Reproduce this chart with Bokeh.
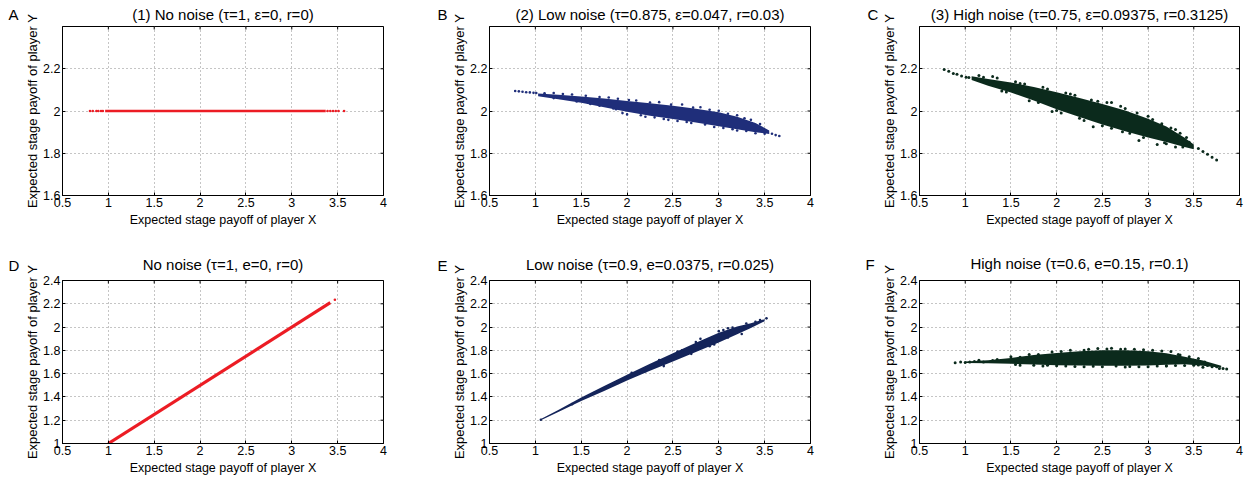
import math
from bokeh.plotting import figure
from bokeh.layouts import column, row
from bokeh.models import FixedTicker, Range1d
from bokeh.embed import file_html
from bokeh.resources import INLINE

# ---------------- data ----------------
x_ticks = [0.5, 1, 1.5, 2, 2.5, 3, 3.5, 4]
x_tick_labels = ["0.5", "1", "1.5", "2", "2.5", "3", "3.5", "4"]
y_ticks_top = [1.6, 1.8, 2.0, 2.2]
y_tick_labels_top = ["1.6", "1.8", "2", "2.2"]
y_ticks_bottom = [1.0, 1.2, 1.4, 1.6, 1.8, 2.0, 2.2, 2.4]
y_tick_labels_bottom = ["1", "1.2", "1.4", "1.6", "1.8", "2", "2.2", "2.4"]

letters = ["A", "B", "C", "D", "E", "F"]
titles = [
    "(1) No noise (\u03c4=1, \u03b5=0, r=0)",
    "(2) Low noise (\u03c4=0.875, \u03b5=0.047, r=0.03)",
    "(3) High noise (\u03c4=0.75, \u03b5=0.09375, r=0.3125)",
    "No noise (\u03c4=1, e=0, r=0)",
    "Low noise (\u03c4=0.9, e=0.0375, r=0.025)",
    "High noise (\u03c4=0.6, e=0.15, r=0.1)",
]
x_label = "Expected stage payoff of player X"
y_label = "Expected stage payoff of player Y"

# Panel A: dense run on y=2 plus sparse ends
a_dense_x = [0.965, 3.37]
a_dense_y = [2.0, 2.0]
a_sparse_x = [0.80, 0.83, 0.87, 0.89, 0.92, 0.94, 3.39, 3.42, 3.45, 3.48, 3.51, 3.57]
a_sparse_y = [2.0] * 12

# Panel B: dense band + sparse points
b_x = [1.03, 1.25, 1.5, 1.75, 2.0, 2.25, 2.5, 2.75, 3.0, 3.2, 3.4, 3.55]
b_upper = [2.083, 2.077, 2.069, 2.059, 2.047, 2.037, 2.025, 2.011, 1.994, 1.973, 1.943, 1.908]
b_lower = [2.070, 2.056, 2.039, 2.018, 1.996, 1.978, 1.962, 1.946, 1.928, 1.914, 1.900, 1.891]
b_pts_x = [0.78, 0.82, 0.86, 0.90, 0.94, 0.98, 1.01, 3.58, 3.62, 3.66,
           1.2, 1.4, 1.7, 1.9, 2.1, 2.35, 2.6, 2.8, 3.0, 3.2, 3.35,
           1.2, 1.45, 1.7, 1.95, 2.2, 2.45, 2.7, 2.95, 3.2, 3.4, 3.5,
           2.0, 2.3, 1.88, 2.55, 3.05,
           1.1, 1.3, 1.55, 1.8, 2.02, 2.25, 2.48, 2.72, 2.9, 3.1, 3.28, 3.45,
           1.6, 1.85, 2.15, 2.4, 2.65, 2.85, 3.15, 3.3]
b_pts_y = [2.095, 2.093, 2.091, 2.089, 2.088, 2.086, 2.085, 1.892, 1.886, 1.882,
           2.085, 2.078, 2.066, 2.058, 2.050, 2.042, 2.031, 2.018, 2.001, 1.980, 1.958,
           2.061, 2.045, 2.025, 1.990, 1.973, 1.958, 1.943, 1.924, 1.908, 1.895, 1.892,
           1.984, 1.970, 2.008, 1.953, 1.920,
           2.084, 2.080, 2.072, 2.064, 2.052, 2.040, 2.030, 2.016, 2.006, 1.987, 1.966, 1.938,
           2.033, 2.012, 1.980, 1.962, 1.948, 1.936, 1.914, 1.905]

# Panel C
c_x = [1.07, 1.25, 1.5, 1.75, 2.0, 2.25, 2.5, 2.75, 3.0, 3.2, 3.4, 3.5]
c_upper = [2.165, 2.152, 2.135, 2.114, 2.089, 2.062, 2.033, 2.002, 1.963, 1.927, 1.873, 1.841]
c_lower = [2.147, 2.119, 2.088, 2.050, 2.008, 1.972, 1.936, 1.904, 1.874, 1.853, 1.829, 1.819]
c_pts_x = [0.77, 0.82, 0.87, 0.91, 0.96, 1.01, 1.04, 3.55, 3.60, 3.65, 3.70, 3.75,
           1.95, 2.05, 2.4, 2.6, 2.9, 3.1, 3.3, 1.3, 1.6, 2.1, 2.6, 3.0, 3.3, 3.45, 1.4, 1.8,
           1.2, 1.55, 1.85, 2.2, 2.45, 2.75, 3.15, 3.35, 2.3, 2.8, 3.2,
           1.15, 1.35, 1.65, 1.9, 2.15, 2.38, 2.55, 2.7, 2.88, 3.05, 3.25, 3.42,
           1.45, 1.7, 2.0, 2.25, 2.5, 2.72, 2.95, 3.18, 3.38]
c_pts_y = [2.196, 2.188, 2.178, 2.174, 2.166, 2.160, 2.158, 1.822, 1.808, 1.795, 1.781, 1.768,
           1.998, 1.990, 1.925, 1.918, 1.860, 1.842, 1.830, 2.163, 2.130, 2.085, 2.040, 1.975, 1.912, 1.852, 2.095, 2.040,
           2.160, 2.138, 2.112, 2.074, 2.046, 2.012, 1.940, 1.895, 1.955, 1.895, 1.845,
           2.168, 2.156, 2.128, 2.104, 2.080, 2.052, 2.040, 2.022, 1.990, 1.960, 1.920, 1.875,
           2.090, 2.048, 2.002, 1.966, 1.930, 1.902, 1.875, 1.850, 1.830]

# Panel D: line of points
d_x = [1.0, 3.42]
d_y = [1.0, 2.21]
d_pts_x = [3.47]
d_pts_y = [2.235]

# Panel E
e_x = [1.06, 1.25, 1.5, 1.75, 2.0, 2.25, 2.5, 2.75, 3.0, 3.2, 3.35, 3.5]
e_upper = [1.210, 1.288, 1.396, 1.494, 1.590, 1.685, 1.776, 1.866, 1.952, 2.005, 2.032, 2.068]
e_lower = [1.199, 1.271, 1.364, 1.450, 1.542, 1.625, 1.705, 1.785, 1.868, 1.938, 1.992, 2.050]
e_pts_x = [1.06, 3.52, 3.45, 3.40, 3.0, 2.8, 2.6, 2.2, 1.9, 3.1, 2.95, 3.25,
           2.6, 2.85, 3.05, 3.3, 2.4, 2.7, 2.9, 3.1,
           1.4, 1.65, 2.05, 2.35, 2.55, 2.75, 3.15]
e_pts_y = [1.204, 2.075, 2.060, 2.045, 1.965, 1.900, 1.800, 1.620, 1.520, 1.990, 1.850, 1.940,
           1.792, 1.885, 1.975, 2.030, 1.665, 1.770, 1.835, 1.910,
           1.338, 1.440, 1.608, 1.716, 1.790, 1.872, 1.995]

# Panel F
f_x = [1.0, 1.25, 1.5, 1.75, 2.0, 2.25, 2.5, 2.75, 3.0, 3.2, 3.4, 3.6, 3.8]
f_upper = [1.704, 1.716, 1.735, 1.760, 1.778, 1.792, 1.800, 1.800, 1.792, 1.776, 1.745, 1.712, 1.668]
f_lower = [1.692, 1.690, 1.684, 1.678, 1.673, 1.670, 1.668, 1.668, 1.670, 1.676, 1.680, 1.668, 1.650]
f_pts_x = [0.89, 0.95, 1.0, 1.05, 1.1, 1.2, 1.3, 1.4, 1.6, 1.8, 2.05, 2.3, 2.45, 2.6, 2.7, 2.85,
           3.05, 3.25, 3.33, 2.1, 2.5, 2.9, 3.1, 3.3, 3.5, 3.55, 3.65, 3.7, 3.75, 3.82, 3.86,
           3.45, 3.38, 2.2, 2.65, 1.9,
           1.5, 1.7, 1.95, 2.15, 2.35, 2.55, 2.75, 2.95, 3.15, 3.35, 3.45, 3.55,
           1.6, 1.85, 2.3, 2.75, 3.0, 3.2, 3.4, 3.6, 3.78,
           1.15, 1.35, 1.55, 1.75, 2.0, 2.4, 2.8, 3.2, 3.5, 3.62]
f_pts_y = [1.694, 1.700, 1.696, 1.700, 1.705, 1.700, 1.712, 1.705, 1.740, 1.765, 1.790, 1.800, 1.815, 1.818, 1.810, 1.810,
           1.800, 1.790, 1.765, 1.665, 1.660, 1.660, 1.665, 1.670, 1.690, 1.675, 1.670, 1.660, 1.660, 1.645, 1.640,
           1.720, 1.700, 1.662, 1.665, 1.672,
           1.745, 1.765, 1.785, 1.800, 1.810, 1.812, 1.812, 1.805, 1.795, 1.760, 1.745, 1.730,
           1.672, 1.665, 1.660, 1.658, 1.660, 1.665, 1.670, 1.655, 1.645,
           1.715, 1.722, 1.678, 1.672, 1.668, 1.664, 1.662, 1.668, 1.673, 1.700]

RED = "#ec1c24"
NAVY_B = "#1f2e7a"
NAVY_E = "#14245a"
GREEN = "#0b2a1c"
FONT = "Liberation Sans"
MS = 2.6


def style_title(t, text, align, standoff):
    t.text = text
    t.align = align
    t.text_font = FONT
    t.text_font_size = "15px"
    t.text_font_style = "normal"
    t.text_color = "black"
    t.standoff = standoff


def letter_fig(width, height, lx, standoff, text):
    # narrow, empty plot whose title carries the panel letter
    p = figure(width=width, height=height, x_range=Range1d(0, 1), y_range=Range1d(0, 1),
               x_axis_type=None, y_axis_type=None, output_backend="svg", toolbar_location=None,
               min_border=0, min_border_left=0, min_border_right=0, min_border_top=0, min_border_bottom=0)
    p.outline_line_color = None
    p.grid.visible = False
    p.background_fill_color = "white"
    p.border_fill_color = "white"
    style_title(p.title, text, "left", standoff)
    p.title.offset = lx
    return p


def make_fig(width, height, bl, br, bt, bb, yr, yticks, ylabels, title, title_standoff):
    p = figure(width=width, height=height, x_range=Range1d(0.5, 4.0), y_range=Range1d(*yr),
               output_backend="svg", toolbar_location=None,
               min_border_left=bl, min_border_right=br, min_border_top=bt, min_border_bottom=bb)
    p.background_fill_color = "white"
    p.border_fill_color = "white"
    p.outline_line_color = "black"
    p.outline_line_width = 1
    p.outline_line_alpha = 1.0

    style_title(p.title, title, "center", title_standoff)

    xt = FixedTicker(ticks=x_ticks)
    yt = FixedTicker(ticks=yticks)
    p.xaxis.ticker = xt
    p.yaxis.ticker = yt
    p.xaxis.major_label_overrides = {t: l for t, l in zip(x_ticks, x_tick_labels)}
    p.yaxis.major_label_overrides = {t: l for t, l in zip(yticks, ylabels)}
    p.xgrid.ticker = xt
    p.ygrid.ticker = yt
    for g in (p.xgrid, p.ygrid):
        g.grid_line_color = "#8a8a8a"
        g.grid_line_dash = "1 3"
        g.grid_line_width = 1

    for ax in (p.xaxis, p.yaxis):
        ax.axis_line_color = "black"
        ax.major_tick_in = 3
        ax.major_tick_out = 0
        ax.minor_tick_line_color = None
        ax.major_label_text_font = FONT
        ax.major_label_text_font_size = "12.5px"
        ax.major_label_text_color = "black"
        ax.axis_label_text_font = FONT
        ax.axis_label_text_font_style = "normal"
        ax.axis_label_text_color = "black"
    p.xaxis.axis_label_text_font_size = "12.5px"
    p.yaxis.axis_label_text_font_size = "13px"
    p.xaxis.major_label_standoff = 2
    p.yaxis.major_label_standoff = 2
    p.xaxis.axis_label = x_label
    p.yaxis.axis_label = y_label
    p.xaxis.axis_label_standoff = 3
    p.yaxis.axis_label_standoff = 0

    # inner tick marks on the top and right edges of the box
    p.scatter(x=x_ticks, y=[yr[1]] * len(x_ticks), marker="dash", angle=math.pi / 2, size=6,
              line_color="black", line_width=1)
    p.scatter(x=[4.0] * len(yticks), y=yticks, marker="dash", angle=0, size=6,
              line_color="black", line_width=1)
    return p


top_y = (1.6, 2.4)
bot_y = (1.0, 2.4)
H1, H2 = 240, 237
TS1 = 7     # top row: title panel must stay within the 26px top border
LS1 = 7     # letter standoff, top row
TS2 = 16

lA = letter_fig(22, H1, 8, LS1, letters[0])
pA = make_fig(405, H1, 36, 44, 26, 45, top_y, y_ticks_top, y_tick_labels_top, titles[0], TS1)
lB = letter_fig(22, H1, 10, LS1, letters[1])
pB = make_fig(405, H1, 36, 44, 26, 45, top_y, y_ticks_top, y_tick_labels_top, titles[1], TS1)
lC = letter_fig(25, H1, 13, LS1, letters[2])
pC = make_fig(365, H1, 35, 5, 26, 45, top_y, y_ticks_top, y_tick_labels_top, titles[2], TS1)

lD = letter_fig(22, H2, 8, TS2 - 3, letters[3])
pD = make_fig(405, H2, 36, 44, 40, 28, bot_y, y_ticks_bottom, y_tick_labels_bottom, titles[3], TS2)
lE = letter_fig(22, H2, 10, TS2 - 2, letters[4])
pE = make_fig(405, H2, 36, 44, 40, 28, bot_y, y_ticks_bottom, y_tick_labels_bottom, titles[4], TS2)
lF = letter_fig(25, H2, 11, TS2, letters[5])
pF = make_fig(365, H2, 35, 5, 40, 28, bot_y, y_ticks_bottom, y_tick_labels_bottom, titles[5], TS2 + 1)

# A
pA.line(a_dense_x, a_dense_y, line_color=RED, line_width=2.4)
pA.scatter(a_sparse_x, a_sparse_y, size=MS, color=RED, line_color=None)

# B
pB.varea(x=b_x, y1=b_lower, y2=b_upper, color=NAVY_B)
pB.scatter(b_pts_x, b_pts_y, size=MS, color=NAVY_B, line_color=None)

# C
pC.varea(x=c_x, y1=c_lower, y2=c_upper, color=GREEN)
pC.scatter(c_pts_x, c_pts_y, size=MS + 0.4, color=GREEN, line_color=None)

# D
pD.line(d_x, d_y, line_color=RED, line_width=3.2)
pD.scatter(d_pts_x, d_pts_y, size=MS, color=RED, line_color=None)

# E
pE.varea(x=e_x, y1=e_lower, y2=e_upper, color=NAVY_E)
pE.scatter(e_pts_x, e_pts_y, size=MS, color=NAVY_E, line_color=None)

# F
pF.varea(x=f_x, y1=f_lower, y2=f_upper, color=GREEN)
pF.scatter(f_pts_x, f_pts_y, size=MS + 0.4, color=GREEN, line_color=None)

layout = column(row(lA, pA, lB, pB, lC, pC, spacing=0),
                row(lD, pD, lE, pE, lF, pF, spacing=0), spacing=0)

with open("out.html", "w") as fh:
    fh.write(file_html(layout, INLINE))
